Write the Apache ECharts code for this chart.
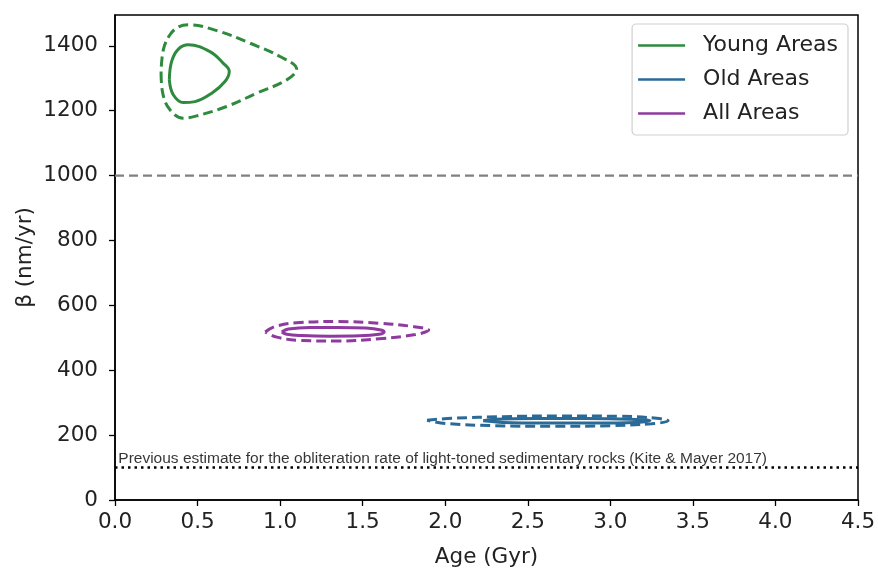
<!DOCTYPE html>
<html>
<head>
<meta charset="utf-8">
<script src="https://cdn.jsdelivr.net/npm/echarts@6/dist/echarts.min.js"></script>
<style>html,body{margin:0;padding:0;background:#fff}#c{width:878px;height:568px}</style>
</head>
<body>
<div id="c"></div>
<script>
// Tick values
const xTicks = [0, 0.5, 1.0, 1.5, 2.0, 2.5, 3.0, 3.5, 4.0, 4.5];
const yTicks = [0, 200, 400, 600, 800, 1000, 1200, 1400];

// Series names
const names = ['Young Areas', 'Old Areas', 'All Areas'];

// Contours (x: Age Gyr, y: beta nm/yr)
const youngInner = [[0.329,1295],[0.353,1249],[0.414,1225],[0.485,1228],[0.586,1254],[0.666,1290],[0.692,1321],[0.656,1346],[0.575,1382],[0.444,1403],[0.384,1390],[0.343,1352],[0.329,1295]];
const youngOuter = [[0.279,1316],[0.289,1254],[0.333,1203],[0.414,1177],[0.495,1184],[0.676,1213],[0.858,1254],[1.040,1295],[1.100,1328],[0.999,1367],[0.818,1408],[0.616,1447],[0.444,1465],[0.384,1458],[0.333,1434],[0.293,1388],[0.279,1316]];
const oldInner = [[2.23,244],[2.30,249],[2.55,251],[2.85,251],[3.12,249],[3.24,245],[3.15,239],[2.90,237],[2.60,237],[2.35,239],[2.23,244]];
const oldOuter = [[1.89,246],[2.05,252],[2.35,257],[2.70,259],[3.05,258],[3.28,252],[3.35,244],[3.25,235],[3.00,229],[2.65,227],[2.30,229],[2.00,236],[1.89,246]];
const allInner = [[1.01,518],[1.05,527],[1.18,532],[1.35,532],[1.52,530],[1.61,524],[1.63,518],[1.60,511],[1.48,506],[1.30,505],[1.13,507],[1.04,511],[1.01,518]];
const allOuter = [[0.91,518],[0.97,535],[1.12,547],[1.35,550],[1.60,545],[1.80,535],[1.90,524],[1.82,510],[1.60,497],[1.35,490],[1.12,492],[0.98,502],[0.91,518]];

// Reference lines
const refHigh = 1000;
const refLow = 100;
const xRange = [0, 4.5];
const yMax = 1495;
const noteText = 'Previous estimate for the obliteration rate of light-toned sedimentary rocks (Kite & Mayer 2017)';
const notePos = [0.02, 128];

const colors = ['#2e8b3e', '#2a6a97', '#8f3a9f'];
const font = 'DejaVu Sans';
const fs = 21.5;

function contour(name, data, color, dashed) {
  return {
    name: name, type: 'line', data: data, smooth: 0.4, symbol: 'none',
    lineStyle: { color: color, width: 3, type: dashed ? [10, 5] : 'solid' },
    itemStyle: { color: color }, silent: true, z: 3
  };
}

const chart = echarts.init(document.getElementById('c'), null, { renderer: 'canvas' });
chart.setOption({
  animation: false,
  backgroundColor: '#fff',
  color: colors,
  grid: { left: 115, right: 20, top: 15, bottom: 68, outerBoundsMode: 'none', containLabel: false, show: true, borderColor: '#000', borderWidth: 1.5, backgroundColor: 'transparent' },
  legend: {
    data: names, orient: 'vertical', right: 30, top: 24,
    icon: 'rect', itemWidth: 47, itemHeight: 2.5, itemGap: 11,
    padding: [10, 10, 10, 6],
    borderColor: '#d0d0d0', borderWidth: 1.2, borderRadius: 4, backgroundColor: '#fff',
    textStyle: { fontFamily: font, fontSize: 22, color: '#222', lineHeight: 23, padding: [0, 0, 0, 13] }
  },
  xAxis: {
    type: 'value', min: xRange[0], max: xRange[1], interval: 0.5,
    name: 'Age (Gyr)', nameLocation: 'middle', nameGap: 46, nameMoveOverlap: false,
    nameTextStyle: { fontFamily: font, fontSize: fs, color: '#222' },
    axisLine: { show: true, onZero: false, lineStyle: { color: '#000', width: 1.5 } },
    axisTick: { show: true, length: 6, lineStyle: { color: '#000', width: 1.3 }, customValues: xTicks },
    axisLabel: { fontFamily: font, fontSize: fs, color: '#222', margin: 11, customValues: xTicks, formatter: v => v.toFixed(1) },
    splitLine: { show: false }
  },
  yAxis: {
    type: 'value', min: 0, max: yMax,
    name: 'β (nm/yr)', nameLocation: 'middle', nameGap: 79, nameRotate: 90, nameMoveOverlap: false,
    nameTextStyle: { fontFamily: font, fontSize: fs, color: '#222' },
    axisLine: { show: true, onZero: false, lineStyle: { color: '#000', width: 1.5 } },
    axisTick: { show: true, length: 6, lineStyle: { color: '#000', width: 1.3 }, customValues: yTicks },
    axisLabel: { fontFamily: font, fontSize: fs, color: '#222', margin: 17, customValues: yTicks, formatter: v => String(v) },
    splitLine: { show: false }
  },
  series: [
    {
      name: 'ref1000', type: 'line', data: [[xRange[0], refHigh], [xRange[1], refHigh]], symbol: 'none',
      lineStyle: { color: '#808080', width: 2.2, type: [9, 5] }, silent: true, z: 2
    },
    {
      name: 'ref100', type: 'line', data: [[xRange[0], refLow], [xRange[1], refLow]], symbol: 'none',
      lineStyle: { color: '#000', width: 2.5, type: [2.5, 4] }, silent: true, z: 2
    },
    {
      name: 'note', type: 'scatter', data: [notePos], symbolSize: 0, silent: true,
      label: { show: true, position: 'right', distance: 0, formatter: noteText, fontFamily: 'Liberation Sans', fontSize: 15.5, color: '#000' }
    },
    contour(names[0], youngInner, colors[0], false),
    contour(names[0], youngOuter, colors[0], true),
    contour(names[1], oldInner, colors[1], false),
    contour(names[1], oldOuter, colors[1], true),
    contour(names[2], allInner, colors[2], false),
    contour(names[2], allOuter, colors[2], true)
  ]
});
</script>
</body>
</html>
